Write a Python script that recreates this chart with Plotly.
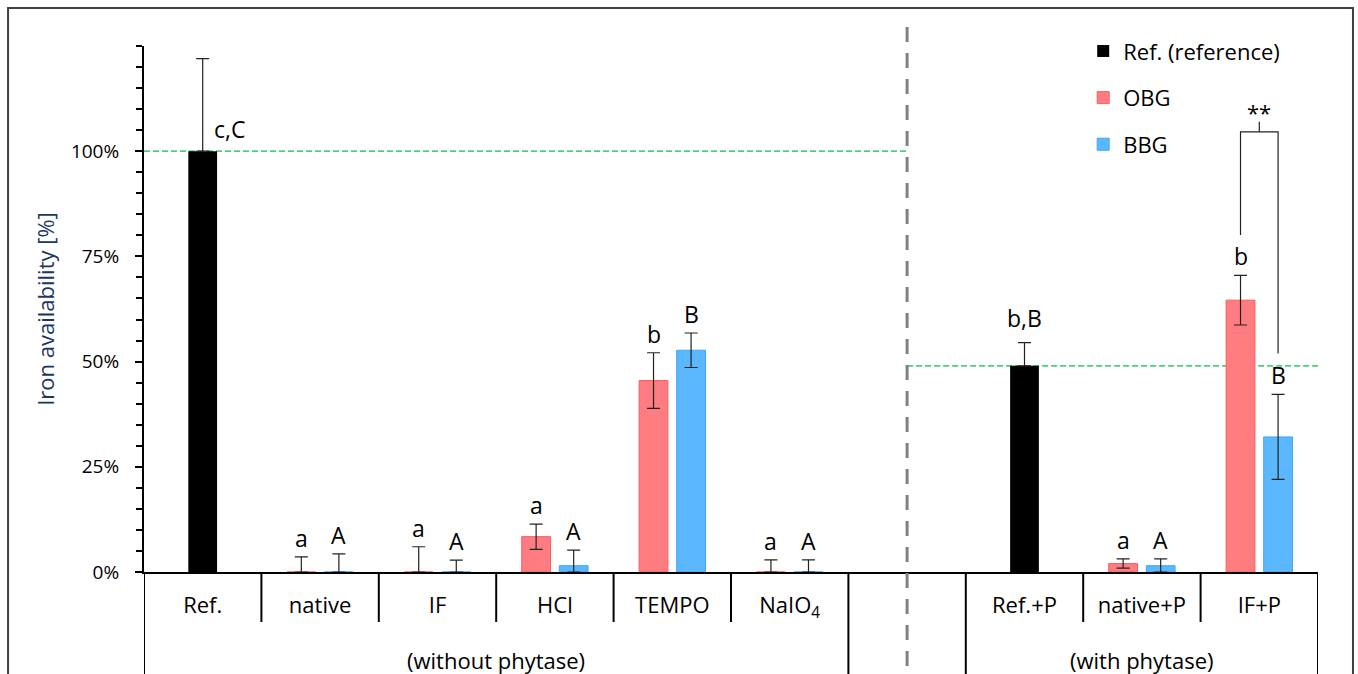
import plotly.graph_objects as go

# ---------------- data ----------------
categories = ["Ref.", "native", "IF", "HCl", "TEMPO", "NaIO<sub>4</sub>", "",
              "Ref.+P", "native+P", "IF+P"]
group_labels = ["(without phytase)", "(with phytase)"]
y_ticks = [0, 25, 50, 75, 100]

ref_cats = ["Ref.", "Ref.+P"]
ref_values = [100.0, 49.0]
ref_err = [22.0, 5.5]
ref_letters = ["c,C", "b,B"]

sample_cats = ["native", "IF", "HCl", "TEMPO", "NaIO<sub>4</sub>", "native+P", "IF+P"]
obg_values = [0.0, 0.0, 8.4, 45.5, 0.0, 2.0, 64.6]
obg_err = [3.6, 6.0, 3.0, 6.6, 2.9, 1.1, 5.9]
obg_letters = ["a", "a", "a", "b", "a", "a", "b"]
bbg_values = [0.0, 0.0, 1.5, 52.7, 0.0, 1.5, 32.1]
bbg_err = [4.3, 2.8, 3.7, 4.1, 2.9, 1.6, 10.1]
bbg_letters = ["A", "A", "A", "B", "A", "A", "B"]

significance = "**"

# ---------------- style ----------------
FONT = "Open Sans"
BAR_W = 0.245
RED_C = -0.16
BLUE_C = 0.16
RED = "#FF7C80"
RED_EDGE = "#FF5A60"
BLUE = "#5BB8FF"
BLUE_EDGE = "#41A6F2"
ERR_COLOR = "#222222"

idx = {c: i for i, c in enumerate(categories)}
ref_x = [idx[c] for c in ref_cats]
s_x = [idx[c] for c in sample_cats]


def err_minus(vals, errs):
    return [min(v, e) for v, e in zip(vals, errs)]


fig = go.Figure()
fig.add_trace(go.Bar(
    name="Ref. (reference)", x=ref_x, y=ref_values, width=BAR_W, offset=-BAR_W / 2,
    marker=dict(color="black", line=dict(width=0)), legendgroup="r",
    error_y=dict(type="data", array=ref_err, arrayminus=[0] * len(ref_err),
                 color=ERR_COLOR, thickness=1.2, width=6.5),
))
fig.add_trace(go.Bar(
    name="OBG", x=s_x, y=obg_values, width=BAR_W, offset=RED_C - BAR_W / 2,
    marker=dict(color=RED, line=dict(color=RED_EDGE, width=1)), legendgroup="o",
    error_y=dict(type="data", array=obg_err, arrayminus=err_minus(obg_values, obg_err),
                 color=ERR_COLOR, thickness=1.2, width=6.5),
))
fig.add_trace(go.Bar(
    name="BBG", x=s_x, y=bbg_values, width=BAR_W, offset=BLUE_C - BAR_W / 2,
    marker=dict(color=BLUE, line=dict(color=BLUE_EDGE, width=1)), legendgroup="b",
    error_y=dict(type="data", array=bbg_err, arrayminus=err_minus(bbg_values, bbg_err),
                 color=ERR_COLOR, thickness=1.2, width=6.5),
))

# ---------------- letters ----------------
ann = []
LET_FONT = dict(family=FONT, size=23, color="black")
for x, v, e, t in zip(s_x, obg_values, obg_err, obg_letters):
    ann.append(dict(x=x + RED_C, y=v + e, text=t, showarrow=False, xref="x", yref="y",
                    yanchor="bottom", yshift=1, font=LET_FONT))
for x, v, e, t in zip(s_x, bbg_values, bbg_err, bbg_letters):
    ann.append(dict(x=x + BLUE_C, y=v + e, text=t, showarrow=False, xref="x", yref="y",
                    yanchor="bottom", yshift=1, font=LET_FONT))
ann.append(dict(x=ref_x[0] + 0.23, y=ref_values[0] + 5.3, text=ref_letters[0], showarrow=False,
                xref="x", yref="y", yanchor="middle", font=LET_FONT))
ann.append(dict(x=ref_x[1], y=ref_values[1] + ref_err[1], text=ref_letters[1], showarrow=False,
                xref="x", yref="y", yanchor="bottom", yshift=7, font=LET_FONT))

# group labels
ann.append(dict(x=2.5, y=-0.167, text=group_labels[0], showarrow=False, xref="x", yref="paper",
                yanchor="middle", font=dict(family=FONT, size=22, color="black")))
ann.append(dict(x=8.0, y=-0.167, text=group_labels[1], showarrow=False, xref="x", yref="paper",
                yanchor="middle", font=dict(family=FONT, size=22, color="black")))

# significance
sig_x = idx["IF+P"]
ann.append(dict(x=sig_x, y=109.3, text=significance, showarrow=False, xref="x", yref="y",
                yanchor="middle", font=dict(family=FONT, size=22, color="black")))

# ---------------- shapes ----------------
shapes = []
AX = dict(color="black", width=2)
short_div = [0.5, 1.5, 2.5, 3.5, 4.5, 7.5, 8.5]
long_div = [-0.5, 5.5, 6.5, 9.5]
for d in short_div:
    shapes.append(dict(type="line", xref="x", yref="paper", x0=d, x1=d, y0=0, y1=-0.095, line=AX))
for d in long_div:
    shapes.append(dict(type="line", xref="x", yref="paper", x0=d, x1=d, y0=0, y1=-0.25, line=AX))
GREEN = dict(color="#4DCF7E", width=1.8, dash="6px,3px")
shapes.append(dict(type="line", xref="x", yref="y", x0=-0.5, x1=6, y0=ref_values[0], y1=ref_values[0],
                   line=GREEN, layer="below"))
shapes.append(dict(type="line", xref="x", yref="y", x0=6, x1=9.5, y0=ref_values[1], y1=ref_values[1],
                   line=GREEN, layer="below"))
shapes.append(dict(type="line", xref="x", yref="paper", x0=6, x1=6, y0=1.036, y1=-0.25,
                   line=dict(color="#808080", width=3, dash="15px,11px")))
lx, rx = sig_x + RED_C, sig_x + BLUE_C
shapes.append(dict(type="path", xref="x", yref="y",
                   path=f"M {lx},80.1 L {lx},104.6 L {rx},104.6 L {rx},51.9",
                   line=dict(color="#222222", width=1.2)))
shapes.append(dict(type="line", xref="x", yref="y", x0=sig_x, x1=sig_x, y0=104.6, y1=107.0,
                   line=dict(color="#222222", width=1.2)))
shapes.append(dict(type="rect", xref="paper", yref="paper", x0=-0.1158, x1=1.0298, y0=-0.3, y1=1.0722,
                   line=dict(color="#404040", width=2), layer="below"))

tick_pos = [i for i, c in enumerate(categories) if c]
tick_txt = [c for c in categories if c]

fig.update_layout(
    width=1358, height=674, autosize=False,
    margin=dict(l=144, r=40, t=46, b=102),
    paper_bgcolor="white", plot_bgcolor="white",
    barmode="overlay",
    font=dict(family=FONT, color="black"),
    annotations=ann, shapes=shapes,
    legend=dict(x=0.800, y=1.03, xanchor="left", yanchor="top", bgcolor="rgba(0,0,0,0)",
                font=dict(family=FONT, size=22, color="black"), tracegroupgap=15,
                itemclick=False),
    xaxis=dict(range=[-0.5, 9.5], tickmode="array", tickvals=tick_pos,
               ticktext=tick_txt, ticks="", showline=True, linecolor="black", linewidth=2,
               showgrid=False, zeroline=False, tickfont=dict(family=FONT, size=22, color="black"),
               ticklabelstandoff=13),
    yaxis=dict(range=[0, 125], tickmode="array", tickvals=y_ticks,
               ticktext=[f"{t}%" for t in y_ticks],
               ticks="outside", ticklen=7, tickwidth=2, tickcolor="black",
               minor=dict(dtick=5, ticks="outside", ticklen=6, tickwidth=2, tickcolor="black"),
               showline=True, linecolor="black", linewidth=2, showgrid=False, zeroline=False,
               tickfont=dict(family=FONT, size=19, color="black"), ticklabelstandoff=12,
               title=dict(text="Iron availability [%]", standoff=10,
                          font=dict(family=FONT, size=22, color="#1A3566"))),
)

fig.write_html("out.html", post_script="document.body.style.margin='0px';",
               config={"displayModeBar": False})
